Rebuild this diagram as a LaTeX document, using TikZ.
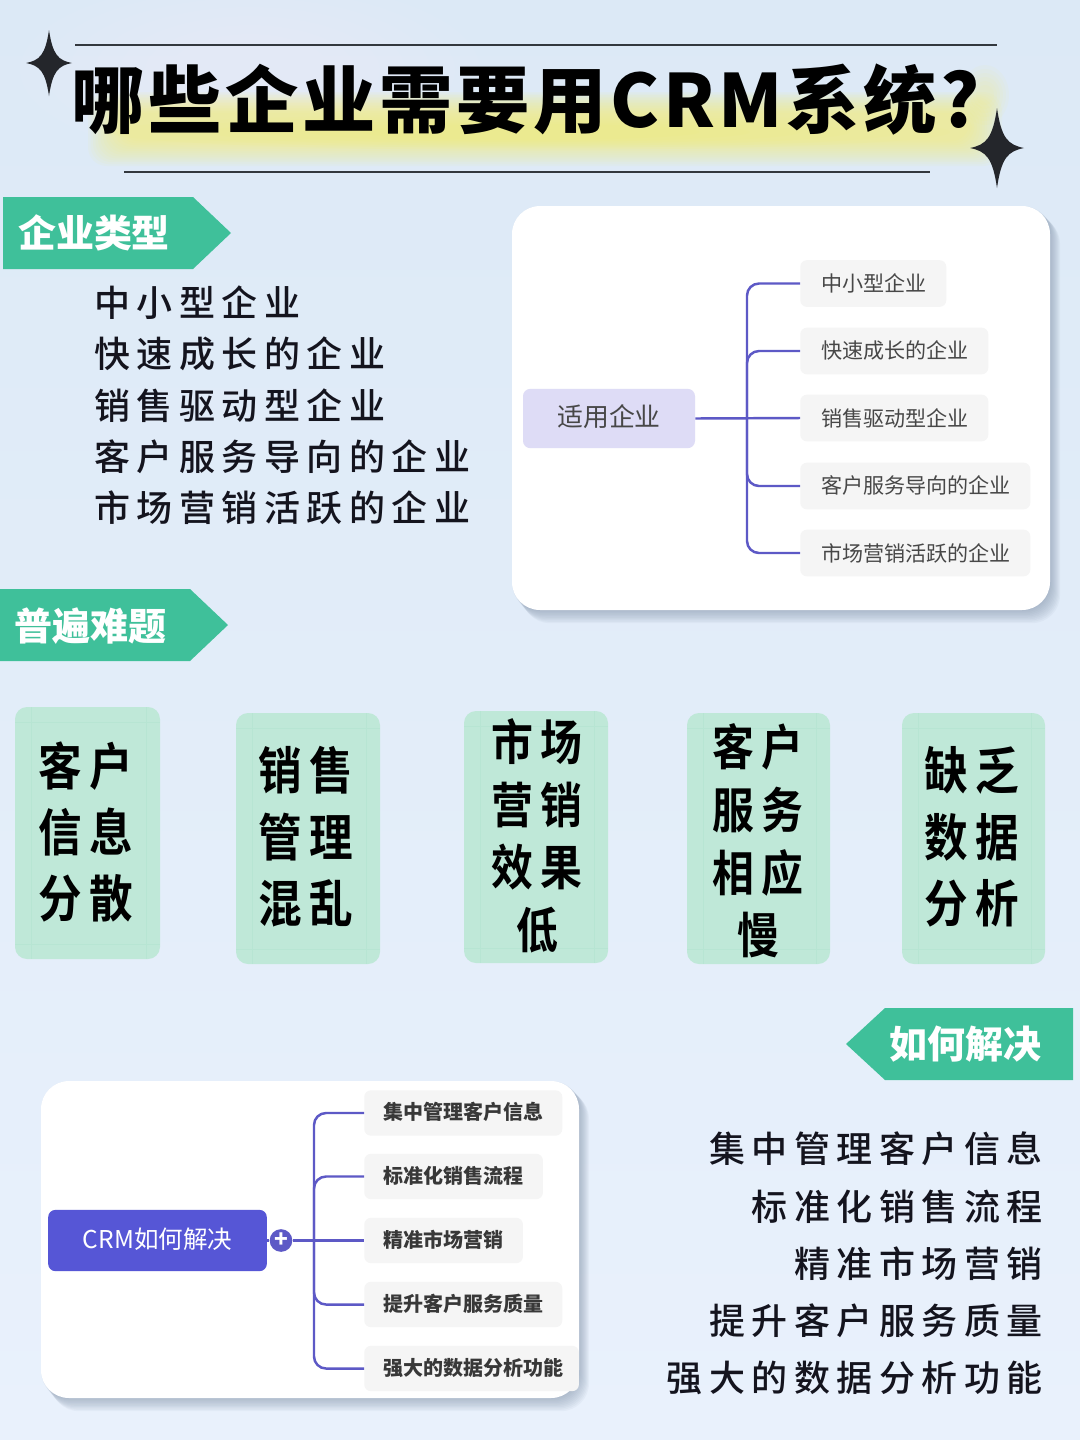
\documentclass[tikz,border=0pt]{standalone}
\usepackage{fontspec}
\setmainfont{Noto Sans CJK SC}
\newfontfamily\titlefont[LetterSpace=5]{Noto Sans CJK SC Black}
\newfontfamily\tagfont{Noto Sans CJK SC}
\newfontfamily\listfont[LetterSpace=18]{Noto Sans CJK SC Medium}
\newfontfamily\cardfont[FakeStretch=0.86,LetterSpace=14]{Noto Sans CJK SC Bold}
\newfontfamily\plaincjk{Noto Sans CJK SC}
\definecolor{tagteal}{HTML}{3FC09A}
\definecolor{cardmint}{HTML}{BFE8D8}
\definecolor{guidemint}{HTML}{B7E5D3}
\definecolor{linkblue}{HTML}{5D59C6}
\definecolor{rootblue}{HTML}{5656D6}
\definecolor{rootpale}{HTML}{DEDCF6}
\definecolor{leafgrey}{HTML}{F5F5F5}
\definecolor{inkdark}{HTML}{14141E}
\definecolor{rulegrey}{HTML}{33383E}
\definecolor{glowyellow}{HTML}{FBF06A}
\definecolor{shadowblue}{HTML}{7F90A6}
\definecolor{bgtop}{HTML}{DCE9F6}
\definecolor{bgmid}{HTML}{E7F0FA}
\definecolor{bgbot}{HTML}{E9F1FC}
\definecolor{starink}{HTML}{24262B}
\tikzset{
  titletext/.style={inner sep=0,text=black,font=\titlefont\fontsize{55}{60}\selectfont},
  tagtext/.style={inner sep=0,text=white,font=\tagfont\bfseries\fontsize{28.5}{32}\selectfont},
  tagshape/.style={fill=tagteal,draw=none},
  listline/.style={inner sep=0,text=inkdark,font=\listfont\fontsize{27}{30}\selectfont},
  whitecard/.style={fill=white,draw=none,rounded corners=21pt},
  rootnode/.style={inner sep=0,rounded corners=5.5pt,font=\plaincjk\fontsize{18.4}{22}\selectfont},
  leafbox/.style={inner sep=0,fill=leafgrey,rounded corners=5pt,minimum height=35pt,anchor=west},
  leaflabel/.style={inner sep=0,anchor=west,text=black!72,font=\plaincjk\fontsize{15.8}{19}\selectfont},
  leafboldlabel/.style={inner sep=0,anchor=west,text=black!78,font=\plaincjk\bfseries\fontsize{15}{18}\selectfont},
  linkline/.style={draw=linkblue,line width=1.85pt},
  branchline/.style={linkline,rounded corners=9pt},
  cardbox/.style={fill=cardmint,draw=none,rounded corners=9pt},
  guideline/.style={draw=guidemint,line width=0.5pt},
  cardtext/.style={inner sep=0,align=center,text=black,font=\cardfont\fontsize{38}{49.8}\selectfont},
  cardtexttight/.style={inner sep=0,align=center,text=black,font=\cardfont\fontsize{36.5}{47}\selectfont},
  rulelinestyle/.style={draw=rulegrey,line width=1.6pt},
}
\newcommand{\softshadow}[5]{% x1 y1 x2 y2 radius
  \foreach \k in {0,...,9}{
    \fill[shadowblue,opacity=0.065,rounded corners=#5]
      ({#1+\k*1.1},{#2+\k*1.1}) rectangle ({#3+1+\k*1.0},{#4+1+\k*1.35});
  }
}
\newcommand{\mintcard}[4]{% x1 y1 x2 y2
  \path[cardbox] (#1,#2) rectangle (#3,#4);
  \draw[guideline] ({#1+16},#2) -- ({#1+16},#4);
  \draw[guideline] ({#3-14},#2) -- ({#3-14},#4);
  \draw[guideline] (#1,{#2+15}) -- (#3,{#2+15});
  \draw[guideline] (#1,{#4-15}) -- (#3,{#4-15});
}
\newcommand{\sparkshape}[4]{% cx cy halfw halfh
  \fill[starink] (#1,{#2-#4}) .. controls ({#1+#3*0.16},{#2-#4*0.25}) and ({#1+#3*0.4},{#2-#4*0.08}) .. ({#1+#3},#2)
    .. controls ({#1+#3*0.4},{#2+#4*0.08}) and ({#1+#3*0.16},{#2+#4*0.25}) .. (#1,{#2+#4})
    .. controls ({#1-#3*0.16},{#2+#4*0.25}) and ({#1-#3*0.4},{#2+#4*0.08}) .. ({#1-#3},#2)
    .. controls ({#1-#3*0.4},{#2-#4*0.08}) and ({#1-#3*0.16},{#2-#4*0.25}) .. cycle;
}
\begin{document}
\begin{tikzpicture}[x=0.75pt,y=-0.75pt]
\useasboundingbox (0,0) rectangle (1080,1440);
% background
\shade[top color=bgtop,middle color=bgmid,bottom color=bgbot] (0,0) rectangle (1080,1440);
\foreach \k in {0,...,7}{
  \fill[white,opacity=0.035] (250,70) ellipse ({230-\k*25} and {90-\k*9});
  \fill[white,opacity=0.03] (620,1090) ellipse ({420-\k*40} and {150-\k*14});
}
% yellow glow
\foreach \k in {0,...,13}{
  \fill[glowyellow,opacity=0.06,rounded corners=14pt]
    ({88+\k*2.5},{92+\k*1.6}) rectangle ({1002-\k*2.5},{166-\k*1.9});
}
\foreach \k in {0,...,5}{
  \fill[glowyellow,opacity=0.05] (530,132) ellipse ({420-\k*50} and {18-\k*2});
  \fill[glowyellow,opacity=0.05] (985,95) ellipse ({24-\k*3} and {30-\k*4});
}
% rules and sparkles
\coordinate (ruleTopL) at (75,45); \coordinate (ruleTopR) at (997,45);
\coordinate (ruleBotL) at (124,172); \coordinate (ruleBotR) at (930,172);
\draw[rulelinestyle] (ruleTopL) -- (ruleTopR);
\draw[rulelinestyle] (ruleBotL) -- (ruleBotR);
\sparkshape{49}{63}{23}{33}
\sparkshape{997}{148}{27}{40}
% title
\node[titletext,anchor=center] (title) at (526,100) {哪些企业需要用CRM系统?};
% tags
\path[tagshape] (3,197) -- (193,197) -- (231,233) -- (193,269) -- (3,269) -- cycle;
\node[tagtext,anchor=center] (tagA) at (94,233) {企业类型};
\path[tagshape] (0,589) -- (190,589) -- (228,625) -- (190,661) -- (0,661) -- cycle;
\node[tagtext,anchor=center] (tagB) at (91,626) {普遍难题};
\path[tagshape] (1073,1008) -- (885,1008) -- (846,1044) -- (885,1080) -- (1073,1080) -- cycle;
\node[tagtext,anchor=center] (tagC) at (965,1044) {如何解决};
% left list
\node[listline,anchor=west] (la) at (94,303) {中小型企业};
\node[listline,anchor=west] (lb) at (94,354) {快速成长的企业};
\node[listline,anchor=west] (lc) at (94,406) {销售驱动型企业};
\node[listline,anchor=west] (ld) at (94,457) {客户服务导向的企业};
\node[listline,anchor=west] (le) at (94,508) {市场营销活跃的企业};
% right list
\node[listline,anchor=east] (ra) at (1043,1149) {集中管理客户信息};
\node[listline,anchor=east] (rb) at (1043,1207) {标准化销售流程};
\node[listline,anchor=east] (rc) at (1043,1264) {精准市场营销};
\node[listline,anchor=east] (rd) at (1043,1321) {提升客户服务质量};
\node[listline,anchor=east] (re) at (1043,1378) {强大的数据分析功能};
% first white card
\softshadow{512}{206}{1050}{610}{21pt}
\path[whitecard] (512,206) rectangle (1050,610);
\node[rootnode,fill=rootpale,minimum width=129pt,minimum height=44.5pt] (rootA) at (609,418.5) {};
\node[inner sep=0,text=black!72,font=\plaincjk\fontsize{19.4}{22}\selectfont] (rootAt) at (609,417) {适用企业};
\node[leafbox,minimum width=109.5pt] (a1) at (800,283.5) {};
\node[leafbox,minimum width=141pt] (a2) at (800,351) {};
\node[leafbox,minimum width=141pt] (a3) at (800,418) {};
\node[leafbox,minimum width=172.5pt] (a4) at (800,486) {};
\node[leafbox,minimum width=172.5pt] (a5) at (800,553) {};
\node[leaflabel] (a1t) at (821,283) {中小型企业};
\node[leaflabel] (a2t) at (821,350) {快速成长的企业};
\node[leaflabel] (a3t) at (821,418) {销售驱动型企业};
\node[leaflabel] (a4t) at (821,485) {客户服务导向的企业};
\node[leaflabel] (a5t) at (821,553) {市场营销活跃的企业};
\coordinate (hubA) at (747,418);
\draw[linkline] (rootA.east) -- (a3.west);
\draw[branchline] (hubA) |- (a1.west);
\draw[branchline] (hubA) |- (a2.west);
\draw[branchline] (hubA) |- (a4.west);
\draw[branchline] (hubA) |- (a5.west);
% mint cards
\mintcard{15}{707}{160}{959}
\node[cardtext] (c1) at (86,832) {客户\\信息\\分散};
\mintcard{236}{713}{380}{964}
\node[cardtext] (c2) at (306,837) {销售\\管理\\混乱};
\mintcard{464}{711}{608}{963}
\node[cardtexttight] (c3) at (537,836) {市场\\营销\\效果\\低};
\mintcard{687}{713}{830}{964}
\node[cardtexttight] (c4) at (758,841) {客户\\服务\\相应\\慢};
\mintcard{902}{713}{1045}{964}
\node[cardtext] (c5) at (972,837) {缺乏\\数据\\分析};
% second white card
\softshadow{41}{1081}{579}{1398}{21pt}
\path[whitecard] (41,1081) rectangle (579,1398);
\node[rootnode,fill=rootblue,minimum width=164pt,minimum height=46pt] (rootB) at (157.5,1240.5) {};
\node[inner sep=0,text=white,font=\plaincjk\fontsize{18.4}{22}\selectfont] (rootBt) at (157.5,1239) {CRM如何解决};
\node[leafbox,minimum width=148.5pt,minimum height=34pt] (b1) at (364,1113) {};
\node[leafbox,minimum width=134pt,minimum height=34pt] (b2) at (364,1176.5) {};
\node[leafbox,minimum width=119pt,minimum height=34pt] (b3) at (364,1240.5) {};
\node[leafbox,minimum width=148.5pt,minimum height=34pt] (b4) at (364,1304.5) {};
\node[leafbox,minimum width=161pt,minimum height=34pt] (b5) at (364,1368.5) {};
\node[leafboldlabel] (b1t) at (383,1112) {集中管理客户信息};
\node[leafboldlabel] (b2t) at (383,1176) {标准化销售流程};
\node[leafboldlabel] (b3t) at (383,1240) {精准市场营销};
\node[leafboldlabel] (b4t) at (383,1304) {提升客户服务质量};
\node[leafboldlabel] (b5t) at (383,1368) {强大的数据分析功能};
\node[circle,fill=linkblue,inner sep=0,minimum size=17pt,text=white,font=\plaincjk\bfseries\fontsize{17}{17}\selectfont] (plus) at (281,1240.5) {+};
\coordinate (hubB) at (314,1240.5);
\draw[linkline] (rootB.east) -- (plus.west);
\draw[linkline] (plus.east) -- (b3.west);
\draw[branchline] (hubB) |- (b1.west);
\draw[branchline] (hubB) |- (b2.west);
\draw[branchline] (hubB) |- (b4.west);
\draw[branchline] (hubB) |- (b5.west);
\end{tikzpicture}
\end{document}
